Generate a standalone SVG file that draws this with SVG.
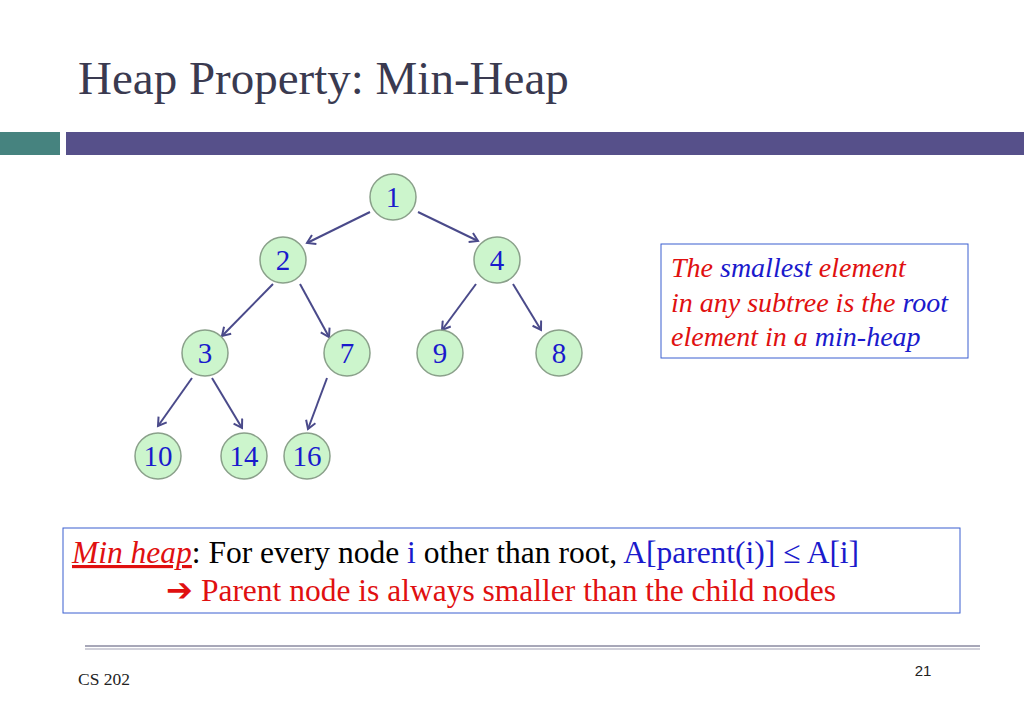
<svg xmlns="http://www.w3.org/2000/svg" width="1024" height="709" viewBox="0 0 1024 709">
<defs>
<marker id="ah" markerWidth="12" markerHeight="12" refX="9" refY="6" orient="auto" markerUnits="userSpaceOnUse">
<path d="M1,1 L9,6 L1,11" fill="none" stroke="#4a4a8a" stroke-width="2"/>
</marker>
</defs>
<style>
.n circle{fill:#ccf5cc;stroke:#8aa08a;stroke-width:1.5}
.n text{font-family:"Liberation Serif",serif;font-size:29px;fill:#1a1acc;text-anchor:middle}
.e line{stroke:#4a4a8a;stroke-width:2;marker-end:url(#ah)}
.s{font-family:"Liberation Serif",serif}
</style>
<rect width="1024" height="709" fill="#fff"/>
<text x="78" y="94" class="s" font-size="47" fill="#3a3a50">Heap Property: Min-Heap</text>
<rect x="0" y="132" width="60" height="23" fill="#46837f"/>
<rect x="66" y="132" width="958" height="23" fill="#56508a"/>
<g class="e">
<line x1="370" y1="212" x2="307" y2="243"/>
<line x1="418" y1="212" x2="478" y2="241"/>
<line x1="273" y1="284" x2="222" y2="336"/>
<line x1="300" y1="284" x2="329" y2="337"/>
<line x1="476" y1="284" x2="442" y2="330"/>
<line x1="513" y1="284" x2="541" y2="330"/>
<line x1="192" y1="378" x2="158" y2="426"/>
<line x1="212" y1="378" x2="242" y2="428"/>
<line x1="327" y1="378" x2="308" y2="429"/>
</g>
<g id="n1" class="n"><circle cx="393" cy="197" r="23"/><text x="393" y="207">1</text></g>
<g id="n2" class="n"><circle cx="283" cy="260" r="23"/><text x="283" y="270">2</text></g>
<g id="n4" class="n"><circle cx="497" cy="260" r="23"/><text x="497" y="270">4</text></g>
<g id="n3" class="n"><circle cx="205" cy="353" r="23"/><text x="205" y="363">3</text></g>
<g id="n7" class="n"><circle cx="347" cy="353" r="23"/><text x="347" y="363">7</text></g>
<g id="n9" class="n"><circle cx="440" cy="353" r="23"/><text x="440" y="363">9</text></g>
<g id="n8" class="n"><circle cx="559" cy="353" r="23"/><text x="559" y="363">8</text></g>
<g id="n10" class="n"><circle cx="158" cy="456" r="23"/><text x="158" y="466">10</text></g>
<g id="n14" class="n"><circle cx="244" cy="456" r="23"/><text x="244" y="466">14</text></g>
<g id="n16" class="n"><circle cx="307" cy="456" r="23"/><text x="307" y="466">16</text></g>
<g id="note">
<rect x="661" y="244" width="307" height="114" fill="#fff" stroke="#3a5fd0" stroke-width="1"/>
<text class="s" font-size="28" font-style="italic" x="671" y="277"><tspan fill="#e01010">The </tspan><tspan fill="#1a1acc">smallest </tspan><tspan fill="#e01010">element</tspan></text>
<text class="s" font-size="28" font-style="italic" x="671" y="312"><tspan fill="#e01010">in any subtree is the </tspan><tspan fill="#1a1acc">root</tspan></text>
<text class="s" font-size="28" font-style="italic" x="671" y="346"><tspan fill="#e01010">element in a </tspan><tspan fill="#1a1acc">min-heap</tspan></text>
</g>
<g id="def">
<rect x="63" y="528" width="897" height="85" fill="#fff" stroke="#3a5fd0" stroke-width="1"/>
<text class="s" font-size="31.5" x="72" y="563"><tspan fill="#e01010" font-style="italic" text-decoration="underline">Min heap</tspan><tspan fill="#000">: For every node </tspan><tspan fill="#1a1acc">i</tspan><tspan fill="#000"> other than root, </tspan><tspan fill="#1a1acc">A[parent(i)] ≤ A[i]</tspan></text>
<text class="s" font-size="31.5" x="166" y="601" fill="#e01010">➔ Parent node is always smaller than the child nodes</text>
</g>
<line x1="85" y1="646" x2="980" y2="646" stroke="#8a8aa0" stroke-width="1.5"/>
<line x1="85" y1="649" x2="980" y2="649" stroke="#c0c0cc" stroke-width="1.5"/>
<text x="78" y="685" class="s" font-size="17.5" fill="#222">CS 202</text>
<text x="923" y="676" font-family="Liberation Sans,sans-serif" font-size="15" fill="#222" text-anchor="middle">21</text>
</svg>
